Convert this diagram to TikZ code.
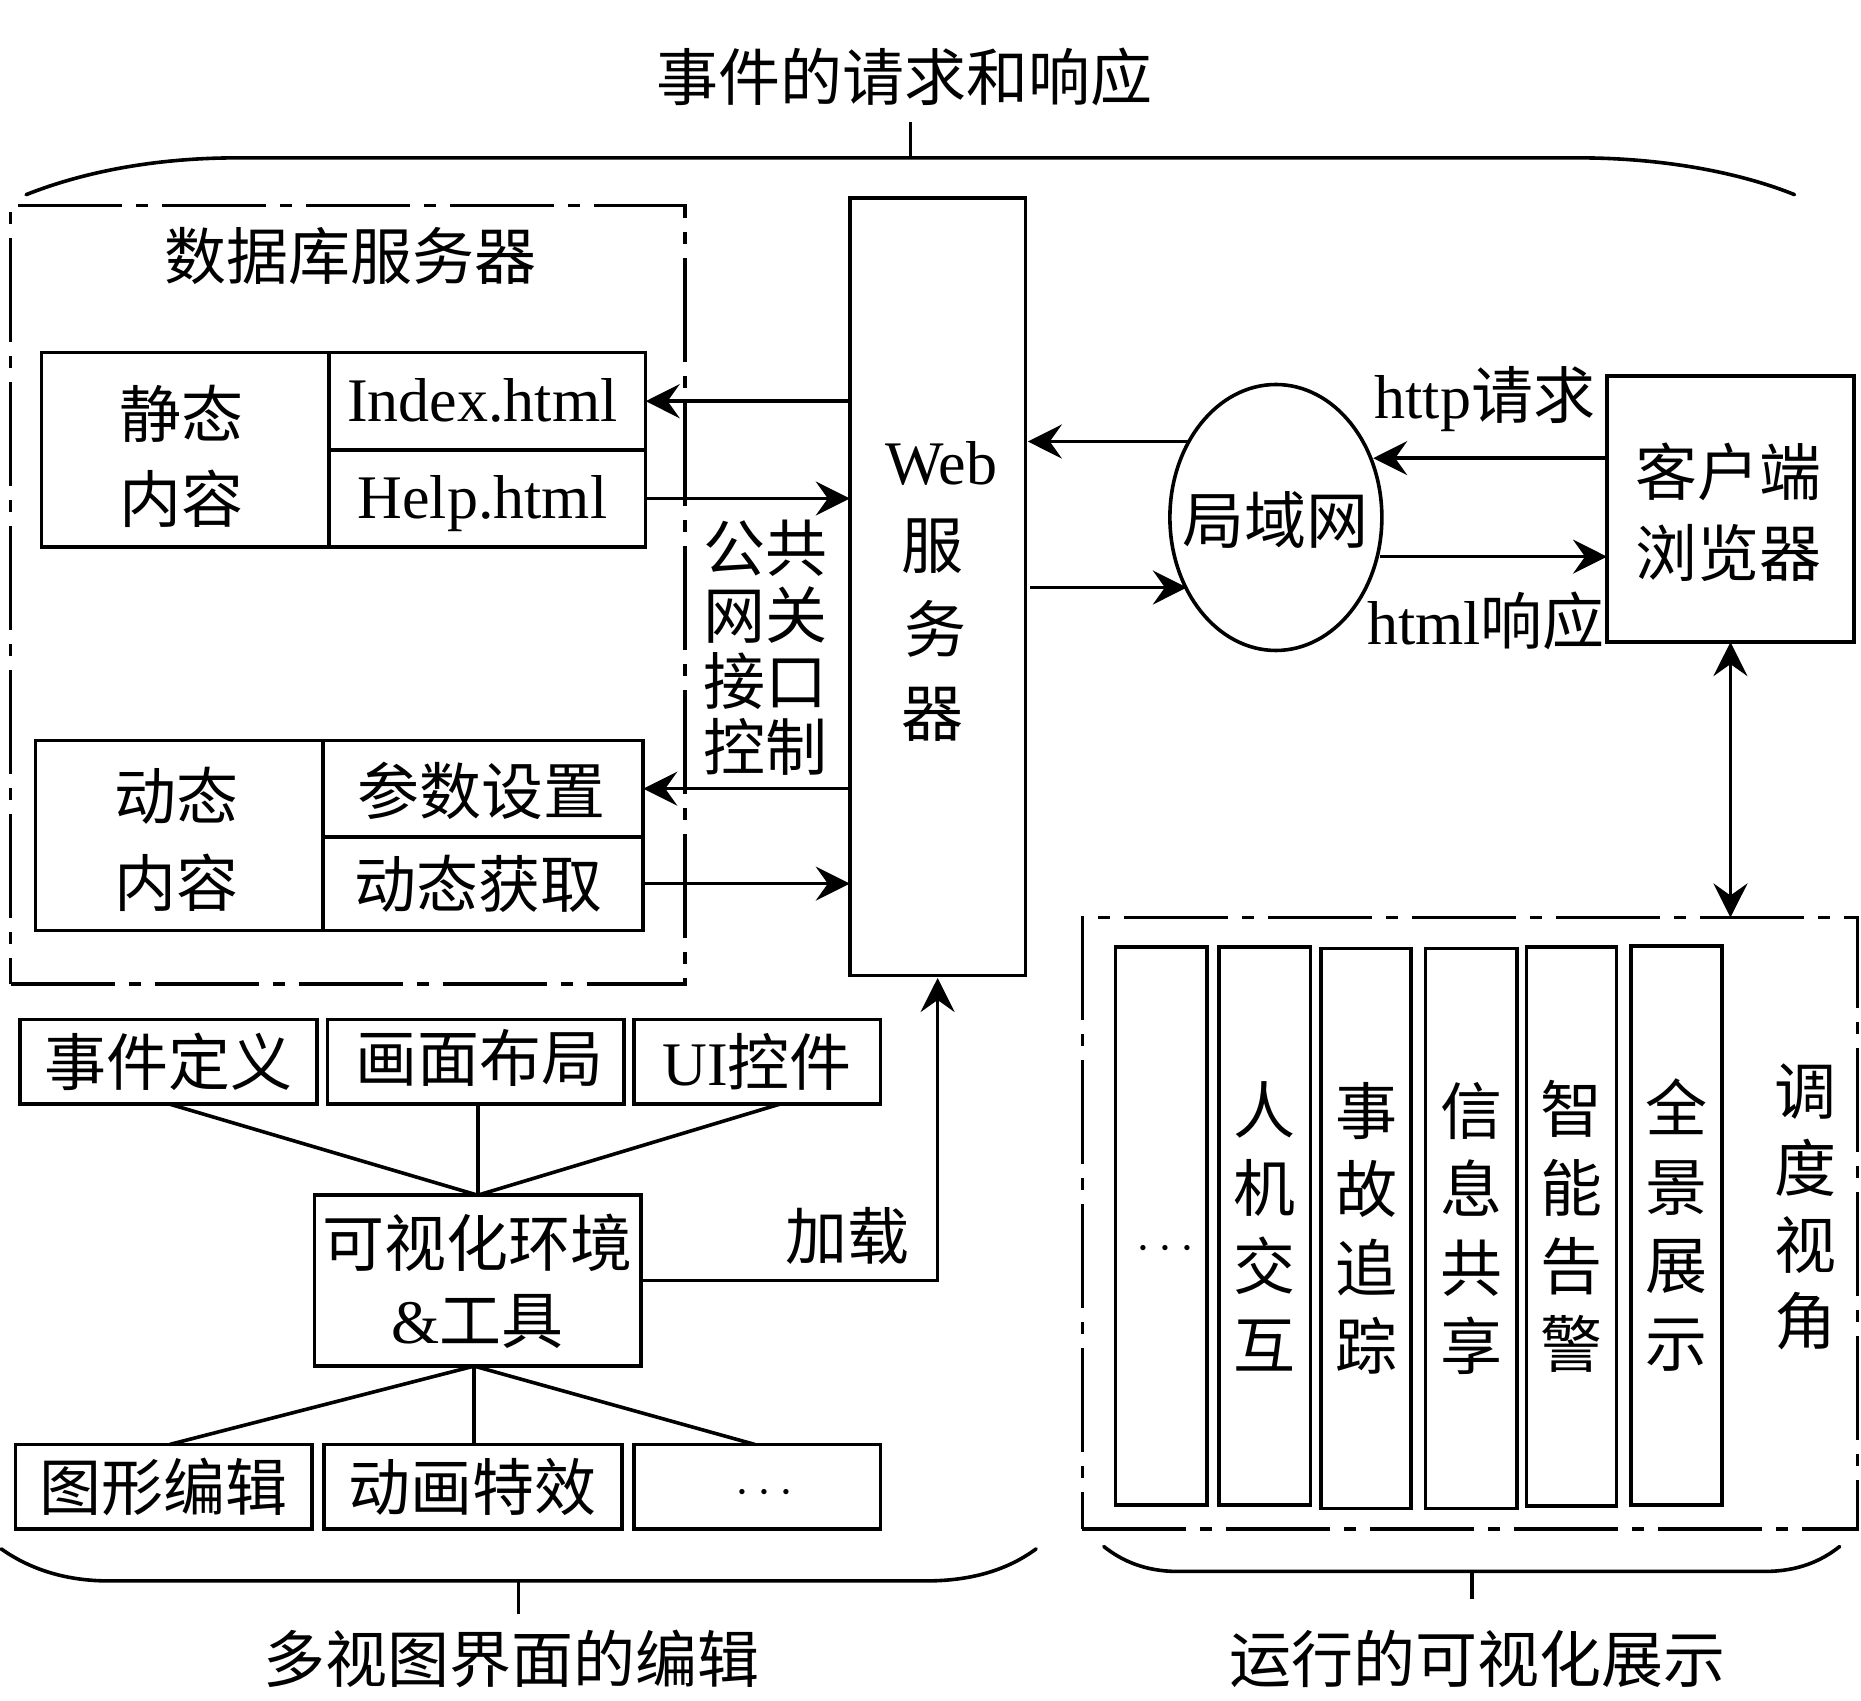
\documentclass[tikz,border=0pt]{standalone}
\usepackage{fontspec}
\setmainfont{Liberation Serif}
\newfontfamily\cjk{Noto Sans CJK SC}
\newcommand\lat[1]{{\rmfamily\fontspec{Liberation Serif}#1}}
\usetikzlibrary{arrows.meta,calc,shapes.geometric}
\tikzset{
  x=0.5935pt,y=-0.5935pt,
  lead/.style={font=\fontsize{31pt}{#1pt}\selectfont\cjk},
  lead/.default=36,
  txt/.style={lead,inner sep=0pt,outer sep=0pt,align=center},
  boxn/.style={draw,line width=1.8pt,txt},
  dashbox/.style={draw,line width=1.8pt,inner sep=0pt,outer sep=0pt,dash pattern=on 52pt off 7pt on 6pt off 7pt},
  conn/.style={line width=1.8pt},
  arr/.style={conn,-{Stealth[length=17pt,width=17pt,inset=6pt]}},
  barr/.style={conn,{Stealth[length=17pt,width=17pt,inset=6pt]}-{Stealth[length=17pt,width=17pt,inset=6pt]}},
  brace/.style={line width=1.8pt,line cap=round},
}
\newcommand\bx[7][]{%
  \pgfmathsetmacro{\bw}{(#5-#3)*0.5935}%
  \pgfmathsetmacro{\bh}{(#6-#4)*0.5935}%
  \node[boxn,minimum width=\bw pt,minimum height=\bh pt,#1] (#2) at ({(#3+#5)/2},{(#4+#6)/2}) {#7};}
\newcommand\ddbox[5]{%
  \pgfmathsetmacro{\bw}{(#4-#2)*0.5935}%
  \pgfmathsetmacro{\bh}{(#5-#3)*0.5935}%
  \node[dashbox,minimum width=\bw pt,minimum height=\bh pt] (#1) at ({(#2+#4)/2},{(#3+#5)/2}) {};}
% \tx{kern}{raise}{content}: nudges the text inside its box, keeping the box's reported size
\newsavebox\txbox
\newcommand\tx[3]{\sbox\txbox{\kern#1\begin{tabular}{@{}c@{}}#3\end{tabular}}\raisebox{#2}[\ht\txbox][\dp\txbox]{\usebox\txbox}}
\newcommand\dotsn{{\fontsize{24pt}{26pt}\selectfont$\cdots$}}
\begin{document}
\begin{tikzpicture}
\useasboundingbox[fill=white] (0,0) rectangle (1568,1433);
% titles
\node[txt] (ttop) at (762,65) {事件的请求和响应};
\node[txt] (tleft) at (431,1398) {多视图界面的编辑};
\node[txt] (tright) at (1245,1398) {运行的可视化展示};
% braces
\coordinate (ctop) at (767,133);
\coordinate (ctopt) at (767,103);
\draw[brace] (22,164) .. controls (70,145) and (130,133) .. (200,133) -- (1330,133) .. controls (1400,133) and (1465,145) .. (1512,164);
\draw[conn] (ctop) -- (ctopt);
\coordinate (cleft) at (437,1332);
\coordinate (cleftt) at (437,1360);
\draw[brace] (1,1305) .. controls (25,1322) and (55,1332) .. (92,1332) -- (780,1332) .. controls (820,1332) and (850,1322) .. (873,1305);
\draw[conn] (cleft) -- (cleftt);
\coordinate (cright) at (1240,1324);
\coordinate (crightt) at (1240,1347);
\draw[brace] (930,1303) .. controls (945,1315) and (965,1324) .. (992,1324) -- (1487,1324) .. controls (1515,1324) and (1535,1315) .. (1550,1303);
\draw[conn] (cright) -- (crightt);
% database server
\ddbox{db}{9}{173}{577}{829}
\node[txt] (dbt) at (295,216) {数据库服务器};
\bx[lead=42.7]{stat}{35}{297}{277}{461}{\tx{-3.6pt}{-6.5pt}{静态\\内容}}
\bx{idx}{277}{297}{544}{379}{\tx{-4.8pt}{-3pt}{\lat{Index.html}}}
\bx{help}{277}{379}{544}{461}{\tx{-4.8pt}{-3pt}{\lat{Help.html}}}
\bx[lead=43.5]{dyn}{30}{624}{272}{784}{\tx{-2.4pt}{-5pt}{动态\\内容}}
\bx{param}{272}{624}{542}{705}{\tx{-1.2pt}{-5.3pt}{参数设置}}
\bx{dget}{272}{705}{542}{784}{\tx{-4.8pt}{-4.2pt}{动态获取}}
% web
\bx[lead=42]{web}{716}{167}{864}{822}{\tx{0pt}{-3.6pt}{\kern3.6pt\lat{Web}\\\kern-4.8pt 服\\\kern-2.4pt 务\\\kern-4.8pt 器}}
\node[txt,lead=33.2] (cgi) at (645,546) {公共\\网关\\接口\\控制};
\draw[arr] (web.west |- idx.east) -- (idx.east);
\draw[arr] (help.east) -- (web.west |- help.east);
\draw[arr] (web.west |- param.east) -- (param.east);
\draw[arr] (dget.east) -- (web.west |- dget.east);
% LAN and client
\node[draw,ellipse,line width=1.8pt,minimum width=106pt,minimum height=133pt,inner sep=0pt,outer sep=0pt] (lan) at (1075,436) {};
\node[txt] (lant) at (1075,438) {局域网};
\bx[lead=40.4]{client}{1354}{317}{1562}{541}{\tx{-2.4pt}{-5.3pt}{客户端\\浏览器}}
\node[txt] (lreq) at (1251,336) {\lat{http}请求};
\node[txt] (lres) at (1252,523) {\lat{html}响应};
\coordinate (w1) at (866,372);
\coordinate (l1) at (1001,372);
\coordinate (w2) at (868,495);
\coordinate (l2) at (1000,495);
\coordinate (l3) at (1157,386);
\coordinate (l4) at (1163,469);
\draw[arr] (l1) -- (w1);
\draw[arr] (w2) -- (l2);
\draw[arr] (client.west |- l3) -- (l3);
\draw[arr] (l4) -- (client.west |- l4);
% run view
\ddbox{view}{912}{773}{1565}{1288}
\draw[barr] (client.south) -- (view.north -| client.south);
\bx{c1}{940}{798}{1017}{1268}{}
\node[txt] (c1t) at (982,1053) {\dotsn};
\bx[lead=39.2]{c2}{1027}{798}{1104}{1268}{人\\机\\交\\互}
\bx[lead=39.2]{c3}{1113}{799}{1189}{1271}{事\\故\\追\\踪}
\bx[lead=39.2]{c4}{1201}{799}{1278}{1271}{信\\息\\共\\享}
\bx[lead=39.2]{c5}{1286}{798}{1362}{1269}{智\\能\\告\\警}
\bx[lead=39.2]{c6}{1374}{797}{1451}{1268}{全\\景\\展\\示}
\node[txt,lead=38.4] (vang) at (1521,1017) {调\\度\\视\\角};
% editor
\bx{e1}{17}{859}{267}{930}{事件定义}
\bx{e2}{276}{859}{526}{930}{\tx{3.6pt}{-2.4pt}{画面布局}}
\bx{e3}{534}{859}{742}{930}{\lat{UI}控件}
\bx[lead=38.5]{env}{265}{1007}{540}{1151}{\tx{0pt}{-4.4pt}{可视化环境\\\lat{\&}工具}}
\bx{g1}{13}{1217}{263}{1288}{图形编辑}
\bx{g2}{273}{1217}{524}{1288}{动画特效}
\bx{g3}{534}{1217}{742}{1288}{}
\node[txt] (g3t) at (644,1258) {\dotsn};
\coordinate (envb) at ($(env.south)+(-3,0)$);
\draw[conn] (e1.south) -- (env.north);
\draw[conn] (env.north |- e2.south) -- (env.north);
\draw[conn] ($(e3.south)+(20,0)$) -- (env.north);
\draw[conn] (envb) -- ($(g1.north)+(5,0)$);
\draw[conn] (envb) -- (envb |- g2.north);
\draw[conn] (envb) -- ($(g3.north)+(-2,0)$);
\draw[arr] (env.east) -| ($(web.south)+(0,2)$);
\node[txt] (load) at (714,1041) {加载};
\end{tikzpicture}
\end{document}
